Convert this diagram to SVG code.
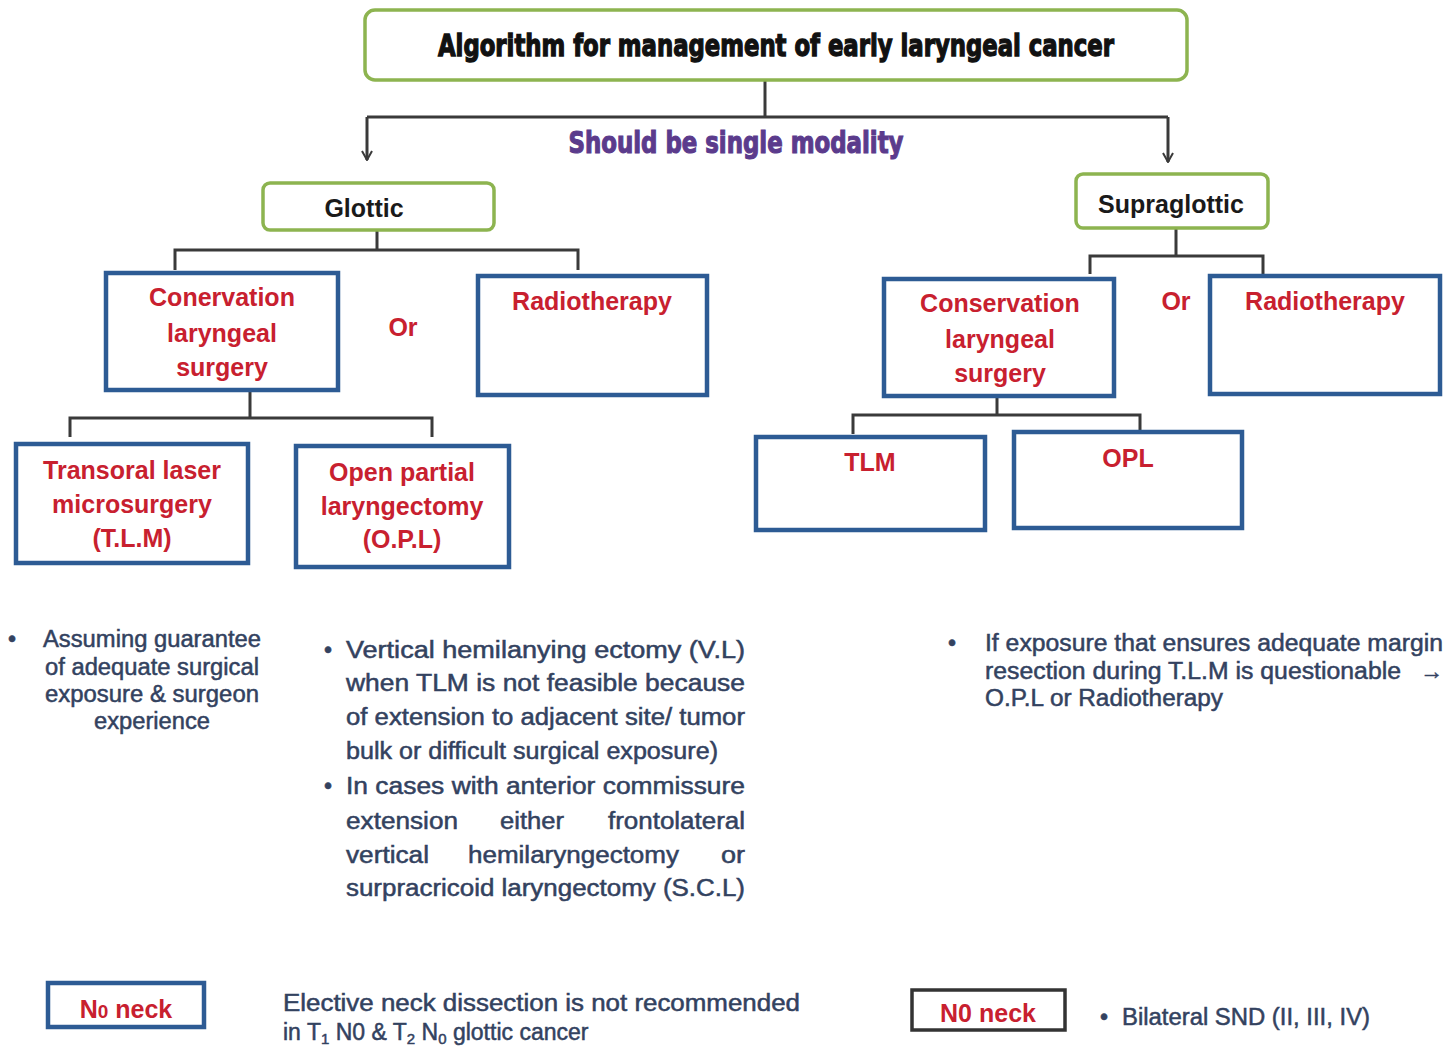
<svg xmlns="http://www.w3.org/2000/svg" width="1445" height="1047" viewBox="0 0 1445 1047">
<defs>
<style>
.g{fill:#fff;stroke:#8db450;stroke-width:3.5}
.b{fill:#fff;stroke:#2d5b94;stroke-width:4.5}
.k{fill:#fff;stroke:#333;stroke-width:3.5}
.c{fill:none;stroke:#3a3a3a;stroke-width:3}
.r{font-family:"Liberation Sans",Arial,sans-serif;font-weight:bold;font-size:25px;fill:#c8202f;text-anchor:middle}
.h{font-family:"Liberation Sans",Arial,sans-serif;font-weight:bold;font-size:25px;fill:#1a1a1a;text-anchor:middle}
.t{font-family:"DejaVu Sans Condensed","DejaVu Sans",sans-serif;font-weight:bold;font-size:31px;fill:#111;stroke:#111;stroke-width:1.3;text-anchor:middle}
.p{font-family:"DejaVu Sans Condensed","DejaVu Sans",sans-serif;font-weight:bold;font-size:30px;fill:#5b3b8c;stroke:#5b3b8c;stroke-width:1.1;text-anchor:middle}
.n{font-family:"Liberation Sans",Arial,sans-serif;font-size:23px;fill:#33425f;stroke:#33425f;stroke-width:0.5}
</style>
<marker id="ah" viewBox="0 0 12 12" refX="11" refY="6" markerWidth="12" markerHeight="12" markerUnits="userSpaceOnUse" orient="auto">
<path d="M2,1 L11,6 L2,11" fill="none" stroke="#3a3a3a" stroke-width="2"/>
</marker>
</defs>
<rect width="1445" height="1047" fill="#fff"/>

<g id="connectors">
<path class="c" d="M765,80 V117"/>
<path class="c" d="M367,117 H1168"/>
<path class="c" d="M367,117 V160" marker-end="url(#ah)"/>
<path class="c" d="M1168,117 V162" marker-end="url(#ah)"/>
<path class="c" d="M377,230 V250 M175,270 V250 H578 V270"/>
<path class="c" d="M1176,228 V256 M1090,274 V256 H1263 V274"/>
<path class="c" d="M250,390 V418 M70,437 V418 H432 V437"/>
<path class="c" d="M997,396 V415 M853,434 V415 H1140 V432"/>
</g>

<g id="title">
<rect class="g" x="365" y="10" width="822" height="70" rx="10"/>
<text class="t" x="776" y="56" textLength="676" lengthAdjust="spacingAndGlyphs">Algorithm for management of early laryngeal cancer</text>
</g>
<g id="modality-label">
<text class="p" x="736" y="153" textLength="335" lengthAdjust="spacingAndGlyphs">Should be single modality</text>
</g>

<g id="glottic">
<rect class="g" x="263" y="183" width="231" height="47" rx="7"/>
<text class="h" x="364" y="217">Glottic</text>
</g>
<g id="supraglottic">
<rect class="g" x="1076" y="174" width="192" height="54" rx="7"/>
<text class="h" x="1171" y="213">Supraglottic</text>
</g>

<g id="glottic-surgery">
<rect class="b" x="106" y="273" width="232" height="117"/>
<text class="r" x="222" y="306">Conervation</text>
<text class="r" x="222" y="342">laryngeal</text>
<text class="r" x="222" y="376">surgery</text>
</g>
<g id="glottic-or"><text class="r" x="403" y="336">Or</text></g>
<g id="glottic-radiotherapy">
<rect class="b" x="478" y="276" width="229" height="119"/>
<text class="r" x="592" y="310">Radiotherapy</text>
</g>

<g id="glottic-tlm">
<rect class="b" x="16" y="444" width="232" height="119"/>
<text class="r" x="132" y="479">Transoral laser</text>
<text class="r" x="132" y="513">microsurgery</text>
<text class="r" x="132" y="547">(T.L.M)</text>
</g>
<g id="glottic-opl">
<rect class="b" x="296" y="446" width="213" height="121"/>
<text class="r" x="402" y="481">Open partial</text>
<text class="r" x="402" y="515">laryngectomy</text>
<text class="r" x="402" y="548">(O.P.L)</text>
</g>

<g id="supra-surgery">
<rect class="b" x="884" y="279" width="230" height="117"/>
<text class="r" x="1000" y="312">Conservation</text>
<text class="r" x="1000" y="348">laryngeal</text>
<text class="r" x="1000" y="382">surgery</text>
</g>
<g id="supra-or"><text class="r" x="1176" y="310">Or</text></g>
<g id="supra-radiotherapy">
<rect class="b" x="1210" y="276" width="230" height="118"/>
<text class="r" x="1325" y="310">Radiotherapy</text>
</g>
<g id="supra-tlm">
<rect class="b" x="756" y="437" width="229" height="93"/>
<text class="r" x="870" y="471">TLM</text>
</g>
<g id="supra-opl">
<rect class="b" x="1014" y="432" width="228" height="96"/>
<text class="r" x="1128" y="467">OPL</text>
</g>

<g id="note-left">
<text class="n" x="8" y="647">•</text>
<text class="n" text-anchor="middle" x="152" y="647" textLength="218" lengthAdjust="spacingAndGlyphs">Assuming guarantee</text>
<text class="n" text-anchor="middle" x="152" y="675" textLength="214" lengthAdjust="spacingAndGlyphs">of adequate surgical</text>
<text class="n" text-anchor="middle" x="152" y="702" textLength="214" lengthAdjust="spacingAndGlyphs">exposure &amp; surgeon</text>
<text class="n" text-anchor="middle" x="152" y="729" textLength="116" lengthAdjust="spacingAndGlyphs">experience</text>
</g>

<g id="note-middle">
<text class="n" x="324" y="658">•</text>
<text class="n" x="346" y="658" textLength="399" lengthAdjust="spacingAndGlyphs">Vertical  hemilanying  ectomy  (V.L)</text>
<text class="n" x="346" y="691" textLength="399" lengthAdjust="spacingAndGlyphs">when TLM is not feasible because</text>
<text class="n" x="346" y="725" textLength="399" lengthAdjust="spacingAndGlyphs">of extension to adjacent site/ tumor</text>
<text class="n" x="346" y="759" textLength="372" lengthAdjust="spacingAndGlyphs">bulk or difficult surgical exposure)</text>
<text class="n" x="324" y="794">•</text>
<text class="n" x="346" y="794" textLength="399" lengthAdjust="spacingAndGlyphs">In cases with anterior commissure</text>
<text class="n" x="346" y="829" textLength="112" lengthAdjust="spacingAndGlyphs">extension</text>
<text class="n" x="500" y="829" textLength="64" lengthAdjust="spacingAndGlyphs">either</text>
<text class="n" x="608" y="829" textLength="137" lengthAdjust="spacingAndGlyphs">frontolateral</text>
<text class="n" x="346" y="863" textLength="83" lengthAdjust="spacingAndGlyphs">vertical</text>
<text class="n" x="468" y="863" textLength="211" lengthAdjust="spacingAndGlyphs">hemilaryngectomy</text>
<text class="n" x="721" y="863" textLength="24" lengthAdjust="spacingAndGlyphs">or</text>
<text class="n" x="346" y="896" textLength="399" lengthAdjust="spacingAndGlyphs">surpracricoid laryngectomy (S.C.L)</text>
</g>

<g id="note-right">
<text class="n" x="948" y="651">•</text>
<text class="n" x="985" y="651" textLength="458" lengthAdjust="spacingAndGlyphs">If  exposure  that  ensures  adequate  margin</text>
<text class="n" x="985" y="679" textLength="416" lengthAdjust="spacingAndGlyphs">resection  during  T.L.M  is  questionable</text>
<text class="n" x="1420" y="679">→</text>
<text class="n" x="985" y="706" textLength="238" lengthAdjust="spacingAndGlyphs">O.P.L or Radiotherapy</text>
</g>

<g id="n0-neck-glottic">
<rect class="b" x="48" y="983" width="156" height="44"/>
<text class="r" x="126" y="1018" font-size="23">N<tspan font-size="19">0</tspan> neck</text>
</g>
<g id="note-neck-left">
<text class="n" x="283" y="1011" textLength="517" lengthAdjust="spacingAndGlyphs">Elective neck dissection is not recommended</text>
<text class="n" x="283" y="1040">in T<tspan font-size="15" dy="4">1</tspan><tspan dy="-4"> N0 &amp; T</tspan><tspan font-size="15" dy="4">2</tspan><tspan dy="-4"> N</tspan><tspan font-size="15" dy="4">0</tspan><tspan dy="-4"> glottic cancer</tspan></text>
</g>

<g id="n0-neck-supra">
<rect class="k" x="912" y="990" width="153" height="40"/>
<text class="r" x="988" y="1022" font-size="24">N0 neck</text>
</g>
<g id="note-neck-right">
<text class="n" x="1100" y="1025" font-size="21">•</text>
<text class="n" x="1122" y="1025" textLength="248" lengthAdjust="spacingAndGlyphs">Bilateral SND (II, III, IV)</text>
</g>
</svg>
